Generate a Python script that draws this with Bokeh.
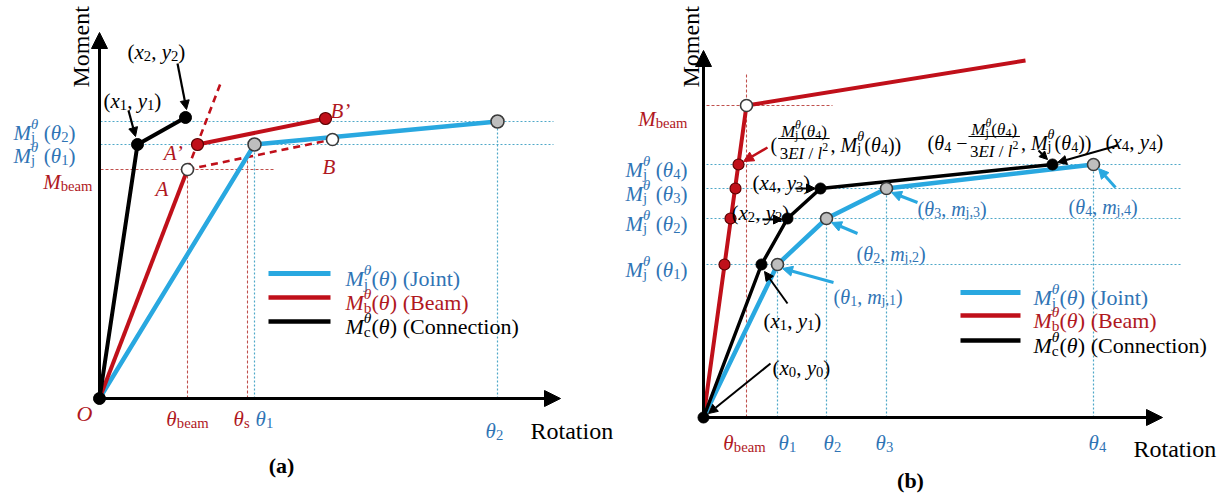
import math
from bokeh.plotting import figure
from bokeh.layouts import row
from bokeh.models import Range1d, ColumnDataSource, Arrow, NormalHead
from bokeh.core.properties import value, field
from bokeh.embed import file_html
from bokeh.resources import INLINE

FONT = "Liberation Serif"
BLUE = "#29A8E0"
BLUE_TXT = "#2F74B5"
RED = "#C0101A"
RED_TXT = "#B0181E"
GUIDE_B = "#4FA8C8"
GUIDE_R = "#C0504D"
GRAY = "#BEBEBE"
EDGE = "#3A3A3A"

# ---------------- panel (a): rotation / moment (schematic units) ----------------
a_conn_rot = [0, 38, 86]            # O, (x1, y1), (x2, y2)
a_conn_mom = [0, 254, 281]
a_joint_rot = [0, 155, 398]         # O, theta1, theta2
a_joint_mom = [0, 254, 277]
a_beam_rot = [0, 88]                # O -> A
a_beam_mom = [0, 229]
a_beam_ext_rot = [88, 121]          # elastic branch continued past A
a_beam_ext_mom = [229, 315]
a_shift_rot = [98, 226]             # A' -> B'
a_shift_mom = [254, 280]
a_ab_rot = [88, 233]                # A -> B
a_ab_mom = [229, 259]
a_theta_j = [155, 398]              # theta1, theta2
a_mj = [254, 277]                   # Mj(theta1), Mj(theta2)
a_theta_beam = 88
a_m_beam = 229
a_theta_s = 148
a_theta_s_mom = 242
a_theta_labels = ["1", "2"]

# ---------------- panel (b) ----------------
b_conn_rot = [0, 58, 84, 117, 349]
b_conn_mom = [0, 153, 199, 229, 253]
b_joint_rot = [0, 74, 123, 183, 390]
b_joint_mom = [0, 153, 199, 229, 253]
b_beam_rot = [0, 43, 322]
b_beam_mom = [0, 312, 357]
b_beam_pts_rot = [21, 27, 32, 35]
b_beam_pts_mom = [153, 199, 229, 253]
b_theta_beam = 43
b_m_beam = 312
b_theta_labels = ["1", "2", "3", "4"]

# ---------------- text metrics (Times-like advance widths, em) ----------------
ROMAN_W = {'(': .333, ')': .333, ',': .25, ' ': .25, '/': .278, '’': .333, '−': .564,
           'a': .444, 'b': .5, 'c': .444, 'e': .444, 'i': .278, 'j': .278, 'l': .278,
           'm': .778, 'n': .5, 'o': .5, 's': .389, 't': .278, 'B': .667, 'C': .667,
           'J': .389, 'M': .889, 'R': .667, 'θ': .52}
ITALIC_W = {'M': .833, 'x': .444, 'y': .444, 'm': .722, 'A': .611, 'B': .611,
            'O': .722, 'θ': .5, 'E': .611, 'I': .333, 'l': .278, '’': .333}
BOLD_W = {'(': .333, ')': .333, 'a': .5, 'b': .556}


def advance(ch, style):
    tab = ITALIC_W if style == "italic" else BOLD_W if style == "bold" else ROMAN_W
    return tab.get(ch, ROMAN_W.get(ch, 0.5))


def layout(runs, size):
    items, x, held = [], 0.0, None
    for text, kind in runs:
        stack = kind.endswith("!")
        kind = kind.rstrip("!")
        style = "italic" if kind in ("i", "subi", "supi") else "bold" if kind == "bf" else "normal"
        if kind.startswith("sub"):
            fs, dy = size * 0.7, -0.22 * size
        elif kind.startswith("sup"):
            fs, dy = size * 0.7, 0.40 * size
        else:
            fs, dy = size, 0.0
        lead = len(text) - len(text.lstrip(" "))
        trail = len(text) - len(text.rstrip(" "))
        core = text.strip(" ")
        x += lead * 0.25 * fs
        w = sum(advance(c, style) for c in core) * fs
        items.append((x, dy, core, fs, style))
        if stack:
            held = w
            continue
        if held is not None:
            w = max(w, held)
            held = None
        x += w + trail * 0.25 * fs
    return items, x


class Sheet:
    def __init__(self, fig):
        self.p = fig
        self.t = dict(x=[], y=[], text=[], size=[], color=[], style=[], angle=[])

    def runs(self, runs, x, y, size, color, align="left", angle=0.0):
        items, width = layout(runs, size)
        if align == "center":
            x -= width / 2
        elif align == "right":
            x -= width
        for dx, dy, s, fs, st in items:
            if not s:
                continue
            self.t["x"].append(x + dx)
            self.t["y"].append(y + dy)
            self.t["text"].append(s)
            self.t["size"].append(f"{fs:.1f}px")
            self.t["color"].append(color)
            self.t["style"].append(st)
            self.t["angle"].append(angle)
        return width

    def frac(self, lead, tail, x, y, size, fs, color):
        x += self.runs(lead, x, y, size, color) + 1
        num = [("M", "i"), ("j", "sub!"), ("θ", "supi"), ("(", "r"), ("θ", "i"), ("4", "sub"), (")", "r")]
        den = [("3", "r"), ("EI", "i"), (" / ", "r"), ("l", "i"), ("2", "sup")]
        wn = layout(num, fs)[1]
        wd = layout(den, fs)[1]
        fw = max(wn, wd) + 3
        bar = y + 0.3 * size
        self.runs(num, x + fw / 2, bar + 0.42 * fs, fs, color, "center")
        self.runs(den, x + fw / 2, bar - 0.9 * fs, fs, color, "center")
        self.p.segment(x0=[x], y0=[bar], x1=[x + fw], y1=[bar], line_color=color, line_width=1.1)
        self.runs(tail, x + fw + 1, y, size, color)

    def flush(self):
        src = ColumnDataSource(self.t)
        self.p.text(x="x", y="y", text="text", angle="angle", source=src,
                    text_font=value(FONT), text_font_size=field("size"),
                    text_color=field("color"), text_font_style=field("style"),
                    text_baseline="alphabetic", text_align="left")


def new_panel(width, ox, oy, height=495):
    p = figure(width=width, height=height,
               x_range=Range1d(-ox, width - ox), y_range=Range1d(oy - height, oy),
               x_axis_location=None, y_axis_location=None,
               output_backend="svg", toolbar_location=None, min_border=0)
    p.grid.visible = False
    p.outline_line_color = None
    return p


def arrow(p, x0, y0, x1, y1, color, width=2.0, head=9):
    p.add_layout(Arrow(end=NormalHead(size=head, fill_color=color, line_color=color, line_width=1),
                       x_start=x0, y_start=y0, x_end=x1, y_end=y1,
                       line_color=color, line_width=width))


def mj_runs(k, space=True):
    return [("M", "i"), ("j", "sub!"), ("θ", "supi"), (" (" if space else "(", "r"),
            ("θ", "i"), (k, "sub"), (")", "r")]


def xy_runs(a, b, sa="x", sb="y"):
    return [("(", "r"), (sa, "i"), (a, "sub"), (", ", "r"), (sb, "i"), (b, "sub"), (")", "r")]


def legend(sheet, x0, x1, ys, tx, size):
    entries = [("j", " (Joint)", BLUE, BLUE_TXT, 5), ("b", " (Beam)", RED, RED_TXT, 4.5),
               ("c", " (Connection)", "black", "black", 4.5)]
    for (sub, name, lc, tc, lw), y in zip(entries, ys):
        sheet.p.segment(x0=[x0], y0=[y], x1=[x1], y1=[y], line_color=lc, line_width=lw)
        sheet.runs([("M", "i"), (sub, "sub!"), ("θ", "supi"), ("(", "r"), ("θ", "i"), (")" + name, "r")],
                   tx, y - 5, size, tc)


# =============================== panel (a) ===============================
pa = new_panel(614, 99, 398)
A = Sheet(pa)

pa.segment(x0=[1, 1], y0=a_mj, x1=[454, 454], y1=a_mj, line_color=GUIDE_B, line_dash="2 2", line_width=1.2)
pa.segment(x0=a_theta_j, y0=[0, 0], x1=a_theta_j, y1=a_mj, line_color=GUIDE_B, line_dash="2 2", line_width=1.2)
pa.segment(x0=[1], y0=[a_m_beam], x1=[176], y1=[a_m_beam], line_color=GUIDE_R, line_dash="3 2", line_width=1.1)
pa.segment(x0=[a_theta_beam, a_theta_s], y0=[0, 0], x1=[a_theta_beam, a_theta_s],
           y1=[a_m_beam, a_theta_s_mom], line_color=GUIDE_R, line_dash="3 2", line_width=1.1)

pa.line(a_beam_ext_rot, a_beam_ext_mom, line_color=RED, line_width=2.6, line_dash="7 5")
pa.line(a_ab_rot, a_ab_mom, line_color=RED, line_width=2.6, line_dash="7 5")
pa.line(a_joint_rot, a_joint_mom, line_color=BLUE, line_width=4.5)
pa.line(a_beam_rot, a_beam_mom, line_color=RED, line_width=4)
pa.line(a_shift_rot, a_shift_mom, line_color=RED, line_width=4)
pa.line(a_conn_rot, a_conn_mom, line_color="black", line_width=4)

arrow(pa, 0, 0, 0, 366, "black", 3, 16)
arrow(pa, 0, 0, 461, 0, "black", 3, 16)

pa.scatter(a_conn_rot, a_conn_mom, size=12, fill_color="black", line_color="black")
pa.scatter(a_joint_rot[1:], a_joint_mom[1:], size=13, fill_color=GRAY, line_color=EDGE, line_width=1.6)
pa.scatter([a_beam_rot[1], a_ab_rot[1]], [a_beam_mom[1], a_ab_mom[1]], size=12,
           fill_color="white", line_color=EDGE, line_width=1.6)
pa.scatter(a_shift_rot, a_shift_mom, size=12, fill_color=RED, line_color="#5A0000", line_width=1.2)

# annotations
A.runs(xy_runs("2", "2"), 28, 347, 21, "black")
arrow(pa, 78, 335, a_conn_rot[2] + 1, a_conn_mom[2] + 8, "black", 2.2, 9)
A.runs(xy_runs("1", "1"), 4, 298, 21, "black")
arrow(pa, 29, 288, a_conn_rot[1] - 2, a_conn_mom[1] + 8, "black", 2.2, 9)
A.runs([("A’", "i")], 84, 246, 21, RED_TXT, "right")
A.runs([("A", "i")], 56, 210, 21, RED_TXT)
A.runs([("B’", "i")], 231, 288, 21, RED_TXT)
A.runs([("B", "i")], 223, 232, 21, RED_TXT)
A.runs([("O", "i")], -7, -15, 22, RED_TXT, "right")

for k, lvl in zip(a_theta_labels, a_mj):
    A.runs(mj_runs(k), -24, lvl - 11, 21, BLUE_TXT, "right")
A.runs([("M", "i"), ("beam", "sub")], -7, a_m_beam - 12, 21, RED_TXT, "right")

A.runs([("θ", "i"), ("beam", "sub")], a_theta_beam, -20, 21, RED_TXT, "center")
A.runs([("θ", "i"), ("s", "sub")], a_theta_s - 6, -20, 21, RED_TXT, "center")
A.runs([("θ", "i"), ("1", "sub")], a_theta_j[0] + 10, -20, 21, BLUE_TXT, "center")
A.runs([("θ", "i"), ("2", "sub")], a_theta_j[1] - 3, -32, 21, BLUE_TXT, "center")

A.runs([("Rotation", "r")], 431, -32, 24, "black")
A.runs([("Moment", "r")], -19, 311, 24, "black", angle=math.pi / 2)
legend(A, 169, 231, [125, 101, 77], 246, 22)
A.runs([("(a)", "bf")], 182, -67, 22, "black", "center")
A.flush()

# =============================== panel (b) ===============================
pb = new_panel(615, 89, 417)
B = Sheet(pb)

pb.segment(x0=[3] * 4, y0=b_joint_mom[1:], x1=[479] * 4, y1=b_joint_mom[1:],
           line_color=GUIDE_B, line_dash="2 2", line_width=1.2)
pb.segment(x0=b_joint_rot[1:], y0=[0] * 4, x1=b_joint_rot[1:], y1=b_joint_mom[1:],
           line_color=GUIDE_B, line_dash="2 2", line_width=1.2)
pb.segment(x0=[3], y0=[b_m_beam], x1=[129], y1=[b_m_beam], line_color=GUIDE_R, line_dash="3 2", line_width=1.1)
pb.segment(x0=[b_theta_beam], y0=[0], x1=[b_theta_beam], y1=[344], line_color=GUIDE_R, line_dash="3 2", line_width=1.1)

pb.line(b_beam_rot, b_beam_mom, line_color=RED, line_width=4)
pb.line(b_joint_rot, b_joint_mom, line_color=BLUE, line_width=4.5)
pb.line(b_conn_rot, b_conn_mom, line_color="black", line_width=3.5)

arrow(pb, 0, 0, 0, 367, "black", 3, 16)
arrow(pb, 0, 0, 459, 0, "black", 3, 16)

pb.scatter(b_beam_pts_rot, b_beam_pts_mom, size=11, fill_color=RED, line_color="#5A0000", line_width=1.2)
pb.scatter(b_conn_rot, b_conn_mom, size=11, fill_color="black", line_color="black")
pb.scatter(b_joint_rot[1:], b_joint_mom[1:], size=12, fill_color=GRAY, line_color=EDGE, line_width=1.6)
pb.scatter([b_beam_rot[1]], [b_beam_mom[1]], size=12, fill_color="white", line_color=EDGE, line_width=1.6)

# black (connection) point labels
B.runs(xy_runs("4", "3"), 49, 235, 21, "black")
arrow(pb, 92, b_conn_mom[3], b_conn_rot[3] - 5, b_conn_mom[3], "black", 2, 9)
B.runs(xy_runs("2", "2"), 28, 205, 21, "black")
arrow(pb, 59, b_conn_mom[2] - 1, b_conn_rot[2] - 5, b_conn_mom[2] - 1, "black", 2, 9)
B.runs(xy_runs("1", "1"), 60, 97, 21, "black")
arrow(pb, 84, 114, b_conn_rot[1] + 3, b_conn_mom[1] - 7, "black", 2, 9)
B.runs(xy_runs("0", "0"), 69, 50, 21, "black")
arrow(pb, 67, 54, 5, 4, "black", 2, 9)
B.runs(xy_runs("4", "4"), 402, 276, 21, "black")
arrow(pb, 414, 272, b_conn_rot[4] + 5, b_conn_mom[4] + 2, "black", 2, 9)
arrow(pb, 335, 267, b_conn_rot[4] - 5, b_conn_mom[4] + 5, "black", 2, 8)

# joint point labels
blue_lab = [(130, 121, 130, 135), (153, 164, 154, 184), (214, 209, 214, 215), (365, 211, 412, 230)]
for k, (tx, ty, ax, ay), r, m in zip(b_theta_labels, blue_lab, b_joint_rot[1:], b_joint_mom[1:]):
    B.runs([("(", "r"), ("θ", "i"), (k, "sub"), (", ", "r"), ("m", "i"), ("j," + k, "sub"), (")", "r")],
           tx, ty, 20, BLUE_TXT)
    arrow(pb, ax, ay, r + (5 if ax > r + 20 else 3), m - 4, BLUE, 3, 10)

# plastic hinge point formulas
tail = [(", ", "r"), ("M", "i"), ("j", "sub!"), ("θ", "supi"), ("(", "r"), ("θ", "i"), ("4", "sub"), ("))", "r")]
B.frac([("(", "r")], tail, 67, 273, 20, 17, "black")
arrow(pb, 64, 270, b_beam_pts_rot[3] + 5, b_beam_pts_mom[3] + 3, RED, 2.5, 10)
B.frac([("(", "r"), ("θ", "i"), ("4", "sub"), (" −", "r")], tail, 224, 275, 20, 17, "black")

# axis labels
for k, lvl in zip(b_theta_labels, b_joint_mom[1:]):
    B.runs(mj_runs(k), -16, lvl - 5, 21, BLUE_TXT, "right")
B.runs([("M", "i"), ("beam", "sub")], -16, b_m_beam - 13, 21, RED_TXT, "right")

B.runs([("θ", "i"), ("beam", "sub")], b_theta_beam - 2, -25, 21, RED_TXT, "center")
for k, r, off in zip(b_theta_labels, b_joint_rot[1:], [10, 6, -2, 4]):
    B.runs([("θ", "i"), (k, "sub")], r + off, -25, 21, BLUE_TXT, "center")

B.runs([("Rotation", "r")], 430, -31, 24, "black")
B.runs([("Moment", "r")], -13, 330, 24, "black", angle=math.pi / 2)
legend(B, 257, 317, [125, 102, 77], 330, 22)
B.runs([("(b)", "bf")], 207, -63, 22, "black", "center")
B.flush()

layout_all = row(pa, pb)
open("out.html", "w").write(file_html(layout_all, INLINE))
